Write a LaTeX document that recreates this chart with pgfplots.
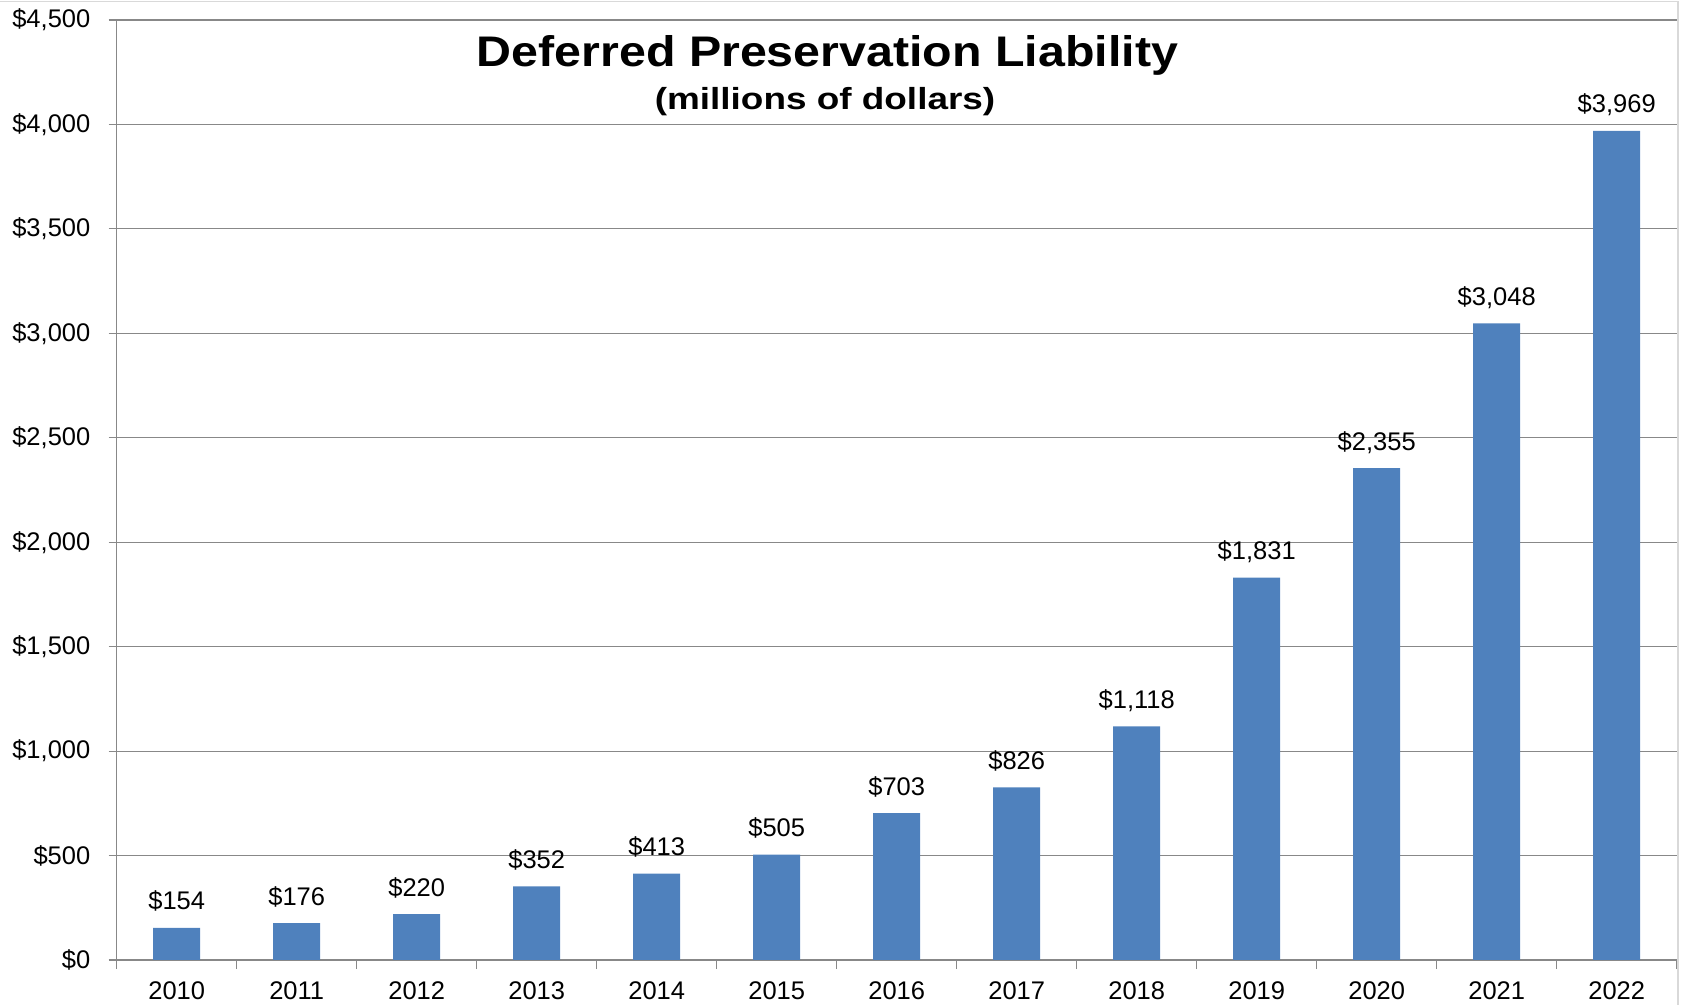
\documentclass[border=0pt]{standalone}
\usepackage{fontspec}
\setmainfont{Liberation Sans}
\usepackage{graphicx}
\usepackage{pgfplots}
\pgfplotsset{compat=1.18}
\definecolor{barblue}{HTML}{4F81BD}
\definecolor{gridgray}{HTML}{888888}
\definecolor{framegray}{HTML}{D9D9D9}
\begin{document}
\begin{tikzpicture}
\useasboundingbox (-58.35pt,-22.5pt) rectangle (783.65pt,480pt);
\draw[framegray, line width=0.75pt] (-58.35pt,479.2pt) -- (780.6pt,479.2pt) -- (780.6pt,-22.5pt);
\begin{axis}[
  at={(0pt,0pt)}, anchor=south west,
  scale only axis, width=780pt, height=470pt,
  xmin=-0.5, xmax=12.5, ymin=0, ymax=4500,
  axis lines*=left,
  axis line style={gridgray, line width=0.6pt, -},
  ybar, bar width=23.5pt,
  xtick={0,1,2,3,4,5,6,7,8,9,10,11,12},
  xticklabels={2010,2011,2012,2013,2014,2015,2016,2017,2018,2019,2020,2021,2022},
  minor xtick={-0.5,0.5,1.5,2.5,3.5,4.5,5.5,6.5,7.5,8.5,9.5,10.5,11.5,12.5},
  ytick={0,500,1000,1500,2000,2500,3000,3500,4000,4500},
  yticklabels={\$0,\$500,{\$1,000},{\$1,500},{\$2,000},{\$2,500},{\$3,000},{\$3,500},{\$4,000},{\$4,500}},
  tick align=outside,
  xtick pos=left, ytick pos=left,
  major tick length=4pt, minor tick length=4.5pt,
  major x tick style={draw=none},
  minor x tick style={gridgray, line width=0.6pt},
  major y tick style={gridgray, line width=0.6pt},
  ymajorgrids,
  major grid style={gridgray, line width=0.6pt},
  tick label style={font=\fontsize{12.75}{15}\selectfont, text=black},
  yticklabel style={anchor=east, inner sep=0pt, xshift=-9pt},
  xticklabel style={anchor=base, inner sep=0pt, yshift=-15.5pt},
  /pgf/number format/1000 sep={,},
  /pgf/number format/assume math mode=true,
  nodes near coords={\$\pgfmathprintnumber{\pgfplotspointmeta}},
  every node near coord/.append style={font=\fontsize{12.75}{15}\selectfont, text=black, anchor=base, inner sep=0pt, yshift=9pt},
  clip=false,
]
\addplot[fill=barblue, draw=none, bar shift=0pt] coordinates {
  (0,154) (1,176) (2,220) (3,352) (4,413) (5,505) (6,703)
  (7,826) (8,1118) (9,1831) (10,2355) (11,3048) (12,3969)
};
\end{axis}
\node[anchor=base, font=\fontsize{21.4}{25}\selectfont\bfseries] at (355.4pt,446.65pt) {\scalebox{1.13}[1]{Deferred Preservation Liability}};
\node[anchor=base, font=\fontsize{15.25}{18}\selectfont\bfseries] at (354.15pt,425pt) {\scalebox{1.21}[1]{(millions of dollars)}};
\end{tikzpicture}
\end{document}
